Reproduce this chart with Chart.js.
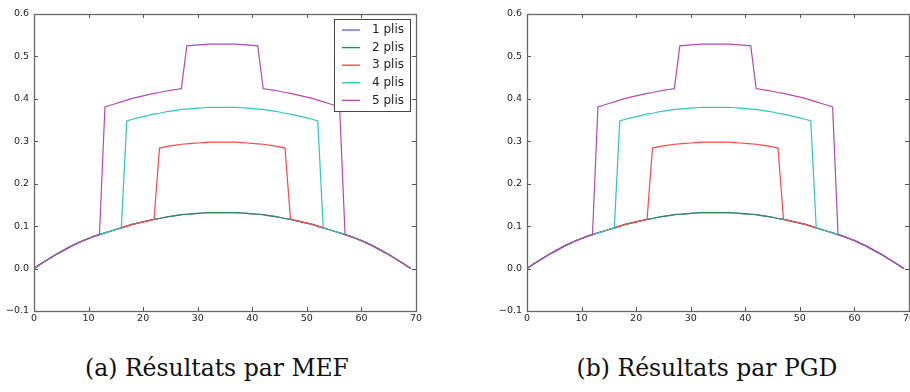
<!DOCTYPE html>
<html>
<head>
<meta charset="utf-8">
<script src="https://cdn.jsdelivr.net/npm/chart.js@4.4.1/dist/chart.umd.min.js"></script>
<style>
  html, body { margin: 0; padding: 0; background: #fff; overflow: hidden; }
  body { width: 910px; height: 392px; position: relative; }
  .plot { position: absolute; top: 0; width: 440px; height: 340px; }
  .plot canvas { width: 440px !important; height: 340px !important; }
  .caption {
    position: absolute; top: 357px; font-family: "DejaVu Serif", serif; line-height: 1;
    font-size: 23.5px; color: #111; white-space: nowrap; transform: translateX(-50%);
  }
</style>
</head>
<body>
<div class="plot" style="left:0px"><canvas id="chartA"></canvas></div>
<div class="plot" style="left:493px"><canvas id="chartB"></canvas></div>
<div class="caption" style="left:217px">(a) Résultats par MEF</div>
<div class="caption" style="left:707px">(b) Résultats par PGD</div>

<script>
// abscisses (0..69)
var xs = [0,1,2,3,4,5,6,7,8,9,10,11,12,13,14,15,16,17,18,19,20,21,22,23,24,25,26,27,28,29,30,31,32,33,34,
          35,36,37,38,39,40,41,42,43,44,45,46,47,48,49,50,51,52,53,54,55,56,57,58,59,60,61,62,63,64,65,66,67,68,69];

var plis1 = [0.000,0.009,0.017,0.025,0.033,0.040,0.047,0.054,0.060,0.066,0.071,0.076,0.080,0.084,0.088,0.092,0.096,0.100,0.104,0.107,0.110,0.113,0.116,0.118,0.121,0.123,0.125,0.127,0.128,0.129,0.130,0.131,0.132,0.132,0.132,
             0.132,0.132,0.132,0.131,0.130,0.129,0.128,0.127,0.125,0.123,0.121,0.118,0.116,0.113,0.110,0.107,0.104,0.100,0.096,0.092,0.088,0.084,0.080,0.076,0.071,0.066,0.060,0.054,0.047,0.040,0.033,0.025,0.017,0.009,0.000];

var plis2 = [0.000,0.009,0.017,0.025,0.033,0.040,0.047,0.054,0.060,0.066,0.071,0.076,0.080,0.084,0.088,0.092,0.096,0.100,0.104,0.107,0.110,0.113,0.116,0.118,0.121,0.123,0.125,0.127,0.128,0.129,0.130,0.131,0.132,0.132,0.132,
             0.132,0.132,0.132,0.131,0.130,0.129,0.128,0.127,0.125,0.123,0.121,0.118,0.116,0.113,0.110,0.107,0.104,0.100,0.096,0.092,0.088,0.084,0.080,0.076,0.071,0.066,0.060,0.054,0.047,0.040,0.033,0.025,0.017,0.009,0.000];

var plis3 = [0.000,0.009,0.017,0.025,0.033,0.040,0.047,0.054,0.060,0.066,0.071,0.076,0.080,0.084,0.088,0.092,0.096,0.100,0.104,0.107,0.110,0.113,0.116,0.284,0.287,0.289,0.291,0.293,0.294,0.295,0.296,0.297,0.298,0.298,0.298,
             0.298,0.298,0.298,0.297,0.296,0.295,0.294,0.293,0.291,0.289,0.287,0.284,0.116,0.113,0.110,0.107,0.104,0.100,0.096,0.092,0.088,0.084,0.080,0.076,0.071,0.066,0.060,0.054,0.047,0.040,0.033,0.025,0.017,0.009,0.000];

var plis4 = [0.000,0.009,0.017,0.025,0.033,0.040,0.047,0.054,0.060,0.066,0.071,0.076,0.080,0.084,0.088,0.092,0.096,0.348,0.352,0.355,0.358,0.361,0.364,0.366,0.369,0.371,0.373,0.375,0.376,0.377,0.378,0.379,0.380,0.380,0.380,
             0.380,0.380,0.380,0.379,0.378,0.377,0.376,0.375,0.373,0.371,0.369,0.366,0.364,0.361,0.358,0.355,0.352,0.348,0.096,0.092,0.088,0.084,0.080,0.076,0.071,0.066,0.060,0.054,0.047,0.040,0.033,0.025,0.017,0.009,0.000];

var plis5 = [0.000,0.009,0.017,0.025,0.033,0.040,0.047,0.054,0.060,0.066,0.071,0.076,0.080,0.381,0.385,0.389,0.393,0.397,0.401,0.404,0.407,0.410,0.413,0.415,0.418,0.420,0.422,0.424,0.525,0.526,0.527,0.528,0.529,0.529,0.529,
             0.529,0.529,0.529,0.528,0.527,0.526,0.525,0.424,0.422,0.420,0.418,0.415,0.413,0.410,0.407,0.404,0.401,0.397,0.393,0.389,0.385,0.381,0.080,0.076,0.071,0.066,0.060,0.054,0.047,0.040,0.033,0.025,0.017,0.009,0.000];

var labels = ["1 plis", "2 plis", "3 plis", "4 plis", "5 plis"];
var colors = ["#6868e8", "#2f8a55", "#f54848", "#2cc4c4", "#b448b4"];
var series = [plis1, plis2, plis3, plis4, plis5];

var xTicks = [0, 10, 20, 30, 40, 50, 60, 70];
var yTicks = [-0.1, 0.0, 0.1, 0.2, 0.3, 0.4, 0.5, 0.6];

var tickFont = {family: "'DejaVu Sans', sans-serif", size: 9.5};

// cadre + petites graduations vers l'intérieur (style matplotlib)
var frameTicks = {
    id: 'frameTicks',
    afterDraw: function(chart) {
        var ctx = chart.ctx, a = chart.chartArea;
        var sx = chart.scales.x, sy = chart.scales.y;
        ctx.save();
        ctx.strokeStyle = '#555';
        ctx.lineWidth = 1;
        ctx.beginPath();
        xTicks.forEach(function(v) {
            var px = Math.round(sx.getPixelForValue(v)) + 0.5;
            ctx.moveTo(px, a.bottom); ctx.lineTo(px, a.bottom - 4);
            ctx.moveTo(px, a.top); ctx.lineTo(px, a.top + 4);
        });
        yTicks.forEach(function(v) {
            var py = Math.round(sy.getPixelForValue(v)) + 0.5;
            ctx.moveTo(a.left, py); ctx.lineTo(a.left + 4, py);
            ctx.moveTo(a.right, py); ctx.lineTo(a.right - 4, py);
        });
        ctx.stroke();
        ctx.strokeStyle = '#666';
        ctx.lineWidth = 1.3;
        ctx.strokeRect(Math.round(a.left) + 0.5, Math.round(a.top) + 0.5,
                       Math.round(a.right - a.left), Math.round(a.bottom - a.top));
        ctx.restore();
    }
};

// légende dans le coin haut droit (seulement pour la figure a)
var boxLegend = {
    id: 'boxLegend',
    afterDraw: function(chart) {
        if (!chart.options.plugins.boxLegend || !chart.options.plugins.boxLegend.show) return;
        var ctx = chart.ctx, a = chart.chartArea;
        var w = 76, h = 92, x0 = a.right - 82, y0 = a.top + 5;
        ctx.save();
        ctx.fillStyle = '#fff';
        ctx.fillRect(x0, y0, w, h);
        ctx.strokeStyle = '#444';
        ctx.lineWidth = 1;
        ctx.strokeRect(x0 + 0.5, y0 + 0.5, w, h);
        ctx.font = "12px 'DejaVu Sans', sans-serif";
        ctx.textBaseline = 'middle';
        ctx.fillStyle = '#222';
        chart.data.datasets.forEach(function(ds, i) {
            var yy = y0 + 11 + i * 17.6;
            ctx.strokeStyle = ds.borderColor;
            ctx.lineWidth = 1.4;
            ctx.beginPath();
            ctx.moveTo(x0 + 8, yy); ctx.lineTo(x0 + 26, yy);
            ctx.stroke();
            ctx.fillText(ds.label, x0 + 38, yy);
        });
        ctx.restore();
    }
};

function makeChart(id, withLegend) {
    var datasets = series.map(function(ys, i) {
        return {
            label: labels[i],
            data: xs.map(function(x, k) { return {x: x, y: ys[k]}; }),
            borderColor: colors[i],
            borderWidth: 1.2,
            pointRadius: 0,
            fill: false,
            tension: 0,
            order: series.length - i   // le dernier tracé passe au-dessus
        };
    });

    return new Chart(document.getElementById(id), {
        type: 'line',
        data: {datasets: datasets},
        plugins: [frameTicks, boxLegend],
        options: {
            responsive: false,
            animation: false,
            layout: {padding: {top: 14, right: 24, left: 0, bottom: 0}},
            plugins: {
                legend: {display: false},
                tooltip: {enabled: false},
                boxLegend: {show: withLegend}
            },
            scales: {
                x: {
                    type: 'linear', min: 0, max: 70,
                    afterFit: function(s) { s.height = 29; },
                    afterBuildTicks: function(s) { s.ticks = xTicks.map(function(v) { return {value: v}; }); },
                    grid: {display: false, drawTicks: false},
                    border: {display: false},
                    ticks: {font: tickFont, color: '#222', padding: 2, maxRotation: 0,
                            callback: function(v) { return String(v); }}
                },
                y: {
                    type: 'linear', min: -0.1, max: 0.6,
                    afterFit: function(s) { s.width = 34; },
                    afterBuildTicks: function(s) { s.ticks = yTicks.map(function(v) { return {value: v}; }); },
                    grid: {display: false, drawTicks: false},
                    border: {display: false},
                    ticks: {font: tickFont, color: '#222', padding: 5,
                            callback: function(v) { return v.toFixed(1).replace('-', '\u2212'); }}
                }
            }
        }
    });
}

var cA = document.getElementById('chartA'), cB = document.getElementById('chartB');
cA.width = 440; cA.height = 340; cB.width = 440; cB.height = 340;

makeChart('chartA', true);
makeChart('chartB', false);
</script>
</body>
</html>
